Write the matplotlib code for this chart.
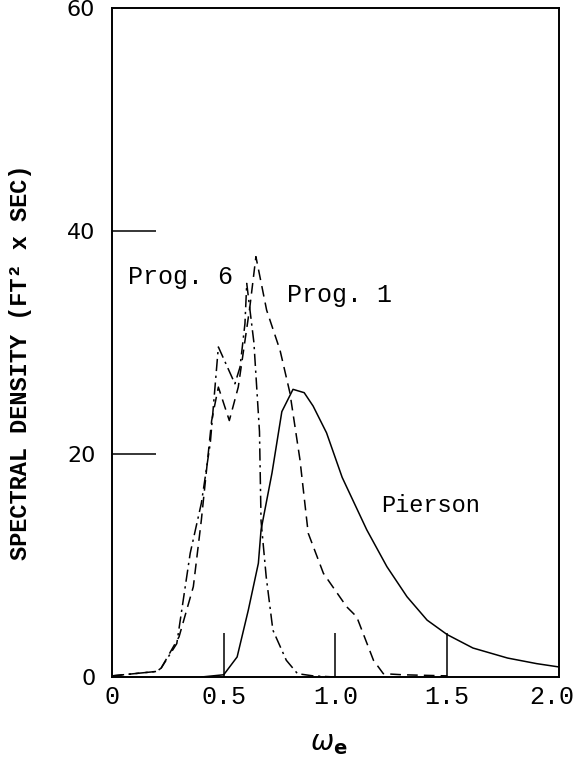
import matplotlib
matplotlib.use("Agg")
import matplotlib.pyplot as plt
from matplotlib.transforms import ScaledTranslation

# Pierson spectrum (solid)
pierson_x = [0.40, 0.50, 0.56, 0.61, 0.655, 0.667, 0.716, 0.76, 0.81, 0.86, 0.90,
             0.96, 1.03, 1.14, 1.23, 1.32, 1.41, 1.50, 1.615, 1.77, 1.90, 2.0]
pierson_y = [0.0, 0.2, 1.8, 6.0, 10.2, 13.2, 18.3, 23.8, 25.8, 25.5, 24.3,
             21.9, 17.9, 13.2, 9.9, 7.2, 5.1, 3.8, 2.6, 1.7, 1.2, 0.9]

# Prog. 1 (dashed)
prog1_x = [0.0, 0.1, 0.2, 0.22, 0.30, 0.364, 0.40, 0.446, 0.476, 0.525, 0.565,
           0.617, 0.644, 0.692, 0.752, 0.796, 0.841, 0.878, 0.946, 1.05, 1.095,
           1.17, 1.214, 1.3, 1.5]
prog1_y = [0.1, 0.3, 0.5, 0.8, 3.6, 8.1, 14.1, 23.0, 26.0, 23.0, 26.0,
           33.2, 37.7, 32.9, 29.3, 25.5, 19.5, 12.9, 9.3, 6.3, 5.4,
           1.5, 0.3, 0.2, 0.1]

# Prog. 6 (dash-dot)
prog6_x = [0.0, 0.1, 0.2, 0.22, 0.29, 0.35, 0.40, 0.44, 0.476, 0.55, 0.573,
           0.595, 0.603, 0.635, 0.66, 0.667, 0.69, 0.72, 0.78, 0.83, 0.9, 1.0]
prog6_y = [0.1, 0.3, 0.5, 0.8, 3.0, 11.1, 15.6, 21.0, 29.6, 26.3, 27.8,
           31.7, 35.3, 30.0, 22.0, 14.0, 9.0, 4.2, 1.5, 0.3, 0.1, 0.0]

xticks = [0, 0.5, 1.0, 1.5, 2.0]
xtick_labels = ["0", "0.5", "1.0", "1.5", "2.0"]
yticks = [0, 20, 40, 60]

mono = "Liberation Mono"

fig = plt.figure(figsize=(5.79, 7.77), dpi=100)
ax = fig.add_axes([0.1934, 0.1287, 0.772, 0.861])

ax.plot(pierson_x, pierson_y, color="black", linewidth=1.1)
ax.plot(prog1_x, prog1_y, color="black", linewidth=1.1, dashes=(7, 4))
ax.plot(prog6_x, prog6_y, color="black", linewidth=1.1, dashes=(8, 3, 1.5, 3))

ax.set_xlim(0, 2.0)
ax.set_ylim(0, 60)

ax.set_xticks(xticks)
ax.set_xticklabels(xtick_labels, fontfamily=mono, fontsize=18)
ax.set_yticks(yticks)
ax.set_yticklabels([str(v) for v in yticks], fontsize=16)
ax.tick_params(axis="both", direction="in", length=32, width=1.1)
ax.tick_params(axis="x", pad=6)
ax.tick_params(axis="y", pad=12)

# long inward tick lines only at the interior positions
for t in (ax.xaxis.get_major_ticks()[0], ax.xaxis.get_major_ticks()[-1],
          ax.yaxis.get_major_ticks()[0], ax.yaxis.get_major_ticks()[-1]):
    t.tick1line.set_visible(False)

# nudge last x label so it stays inside the figure
last = ax.get_xticklabels()[-1]
last.set_transform(last.get_transform() + ScaledTranslation(-7 / 100, 0, fig.dpi_scale_trans))

for s in ax.spines.values():
    s.set_linewidth(1.4)

ax.text(0.072, 35.9, "Prog. 6", fontfamily=mono, fontsize=18, va="center")
ax.text(0.783, 34.3, "Prog. 1", fontfamily=mono, fontsize=18, va="center")
ax.text(1.204, 15.4, "Pierson", fontfamily=mono, fontsize=17, va="center")

ax.set_ylabel("SPECTRAL DENSITY (FT² x SEC)", fontfamily=mono, fontweight="bold",
              fontsize=17)
ax.yaxis.set_label_coords(-0.18, 0.471)
ax.set_xlabel(r"$\omega_\mathbf{e}$", fontsize=20)
ax.xaxis.set_label_coords(0.485, -0.078)

fig.savefig("out.png", dpi=100)
